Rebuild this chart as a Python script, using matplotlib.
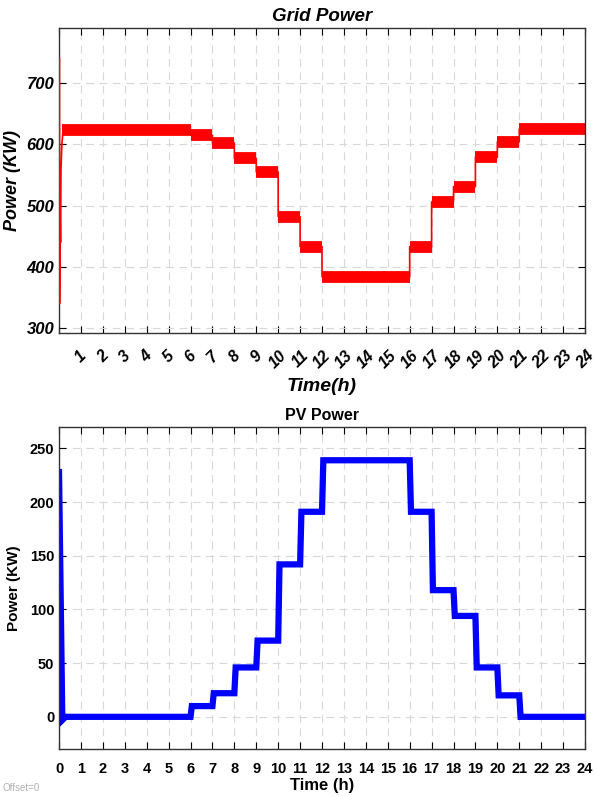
import matplotlib
matplotlib.use('Agg')
import matplotlib.pyplot as plt
import numpy as np

# --- Data ---
hours = list(range(0, 25))  # hour edges 0..24

# grid power level for each hour (kW)
grid_levels = [623, 623, 623, 623, 623, 623, 615, 602, 577, 555, 482, 433,
               384, 384, 384, 384, 433, 506, 531, 579, 604, 625, 625, 625]
# start-up transient of the grid power
grid_start_t = [0.02, 0.025, 0.05, 0.07, 0.09, 0.13, 0.2]
grid_start_p = [740, 340, 500, 440, 560, 600, 630]

# PV power level for each hour (kW)
pv_levels = [0, 0, 0, 0, 0, 0, 10, 22, 46, 71, 142, 191,
             239, 239, 239, 239, 191, 118, 94, 46, 20, 0, 0, 0]
pv_start_t = [0.0, 0.15, 0.3]
pv_start_p = [228, -3, 0]

top_xticklabels = [''] + [str(h) for h in range(1, 25)]
bottom_xticklabels = [str(h) for h in range(0, 25)]

# --- Fonts ---
NARROW = ['Liberation Sans Narrow', 'Liberation Sans', 'DejaVu Sans']
WIDE = ['Liberation Sans', 'DejaVu Sans']
plt.rcParams['font.family'] = NARROW


def style_axes(ax, yticks):
    ax.set_xlim(0, 24)
    ax.set_xticks(hours)
    ax.set_yticks(yticks)
    ax.tick_params(direction='in', top=True, right=True, length=5, width=0.8)
    ax.grid(True, color='#d8d8d8', linestyle=(0, (7, 5)), linewidth=0.8)
    ax.set_axisbelow(True)
    for sp in ax.spines.values():
        sp.set_linewidth(1.0)
        sp.set_color('#333333')


fig = plt.figure(figsize=(5.95, 7.96), dpi=100)

# --- Grid power ---
ax1 = fig.add_axes([0.0992, 0.5817, 0.8840, 0.3831])
style_axes(ax1, [300, 400, 500, 600, 700])
ax1.set_ylim(292, 790)

# thin step path including the start transient
step_t = list(grid_start_t)
step_p = list(grid_start_p)
for i, lv in enumerate(grid_levels):
    step_t += [hours[i] if i > 0 else grid_start_t[-1], hours[i + 1]]
    step_p += [lv, lv]
ax1.plot(step_t, step_p, color='#ff0000', linewidth=1.2, zorder=3)
# thick noisy band on each hour
starts = [grid_start_t[-2]] + hours[1:24]
ax1.hlines(grid_levels, starts, hours[1:], colors='#ff0000', linewidth=8.5,
           capstyle='butt')

ax1.set_xticklabels(top_xticklabels, rotation=45, fontsize=11.5,
                    fontweight='bold', fontstyle='italic')
ax1.tick_params(axis='x', pad=11)
for lab in ax1.get_yticklabels():
    lab.set_fontsize(12)
    lab.set_fontweight('bold')
    lab.set_fontstyle('italic')
ax1.set_title('Grid Power', fontsize=13.5, fontweight='bold',
              fontstyle='italic', pad=5)
ax1.set_xlabel('Time(h)', fontsize=14, fontweight='bold', fontstyle='italic',
               labelpad=5)
ax1.set_ylabel('Power (KW)', fontsize=13, fontweight='bold',
               fontstyle='italic', family=WIDE, labelpad=4)

# --- PV power ---
ax2 = fig.add_axes([0.0992, 0.0590, 0.8840, 0.4046])
style_axes(ax2, [0, 50, 100, 150, 200, 250])
ax2.set_ylim(-30, 270)

pv_t = list(pv_start_t)
pv_p = list(pv_start_p)
for i, lv in enumerate(pv_levels):
    t0 = hours[i] + 0.06 if i > 0 else pv_start_t[-1]
    pv_t += [t0, hours[i + 1]]
    pv_p += [lv, lv]
ax2.plot(pv_t, pv_p, color='#0000ff', linewidth=4.5, solid_joinstyle='miter')

ax2.set_xticklabels(bottom_xticklabels, fontsize=10.5, fontweight='bold')
ax2.tick_params(axis='x', pad=9)
for lab in ax2.get_yticklabels():
    lab.set_fontsize(10.5)
    lab.set_fontweight('bold')
ax2.set_title('PV Power', fontsize=11.5, fontweight='bold', pad=5)
ax2.set_xlabel('Time (h)', fontsize=12, fontweight='bold', labelpad=2)
ax2.set_ylabel('Power (KW)', fontsize=11, fontweight='bold', family=WIDE,
               labelpad=6)

fig.text(0.004, 0.006, 'Offset=0', fontsize=7, color='#b0b0b0', family=WIDE)

fig.savefig('out.png', dpi=100)
plt.close(fig)
